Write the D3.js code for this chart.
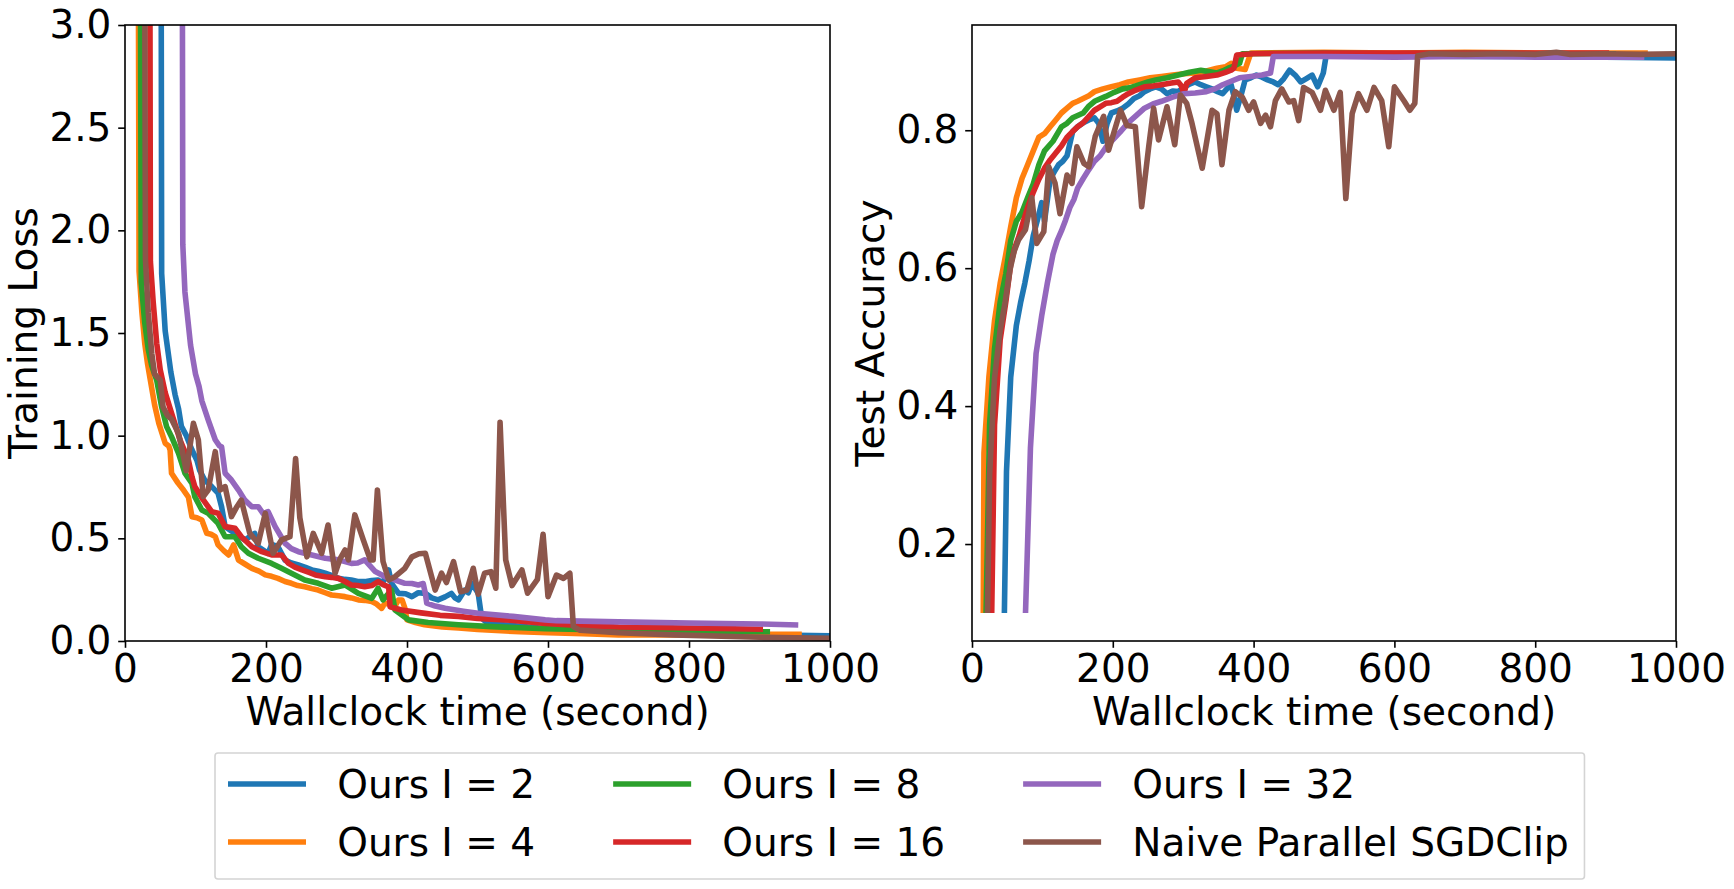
<!DOCTYPE html>
<html>
<head>
<meta charset="utf-8">
<script src="https://cdn.jsdelivr.net/npm/d3@7"></script>
<style>
  body { margin: 0; background: #fff; }
  svg { display: block; font-family: "DejaVu Sans", sans-serif; }
</style>
</head>
<body>
<div id="chart"></div>
<script>
// series: [wallclock seconds, value]
const labels = ["Ours I = 2", "Ours I = 4", "Ours I = 8", "Ours I = 16", "Ours I = 32", "Naive Parallel SGDClip"];
const colors = ["#1f77b4", "#ff7f0e", "#2ca02c", "#d62728", "#9467bd", "#8c564b"];
const xTicks = [0, 200, 400, 600, 800, 1000];
const lossTicks = [0, 0.5, 1.0, 1.5, 2.0, 2.5, 3.0];
const accTicks = [0.2, 0.4, 0.6, 0.8];

const lossI2 = [[50,6],[52,1.79],[57,1.51],[65,1.31],[71,1.2],[76,1.13],[80,1.045],[87,1.0],[95,0.93],[102,0.88],[106,0.83],[113,0.784],[123,0.752],[132,0.72],[137,0.654],[142,0.557],[156,0.524],[170,0.492],[184,0.524],[189,0.459],[203,0.427],[208,0.47],[217,0.459],[227,0.394],[236,0.38],[246,0.37],[255,0.36],[265,0.346],[274,0.34],[284,0.33],[293,0.32],[303,0.305],[312,0.3],[321,0.297],[330,0.29],[340,0.289],[350,0.295],[359,0.297],[365,0.28],[374,0.346],[378,0.281],[388,0.232],[398,0.23],[407,0.216],[416,0.235],[426,0.232],[435,0.21],[444,0.2],[454,0.215],[463,0.232],[468,0.21],[473,0.2],[482,0.248],[487,0.235],[492,0.281],[501,0.232],[506,0.11],[515,0.085],[550,0.075],[600,0.06],[650,0.05],[700,0.045],[800,0.035],[900,0.03],[1000,0.025]];
const lossI4 = [[17,6],[20,1.8],[24,1.6],[28,1.45],[32,1.35],[36,1.27],[42,1.15],[48,1.06],[57,0.963],[62,0.95],[64,0.93],[66,0.817],[75,0.77],[83,0.735],[90,0.70],[95,0.605],[102,0.6],[109,0.589],[116,0.525],[122,0.52],[128,0.508],[132,0.468],[140,0.44],[147,0.419],[154,0.468],[161,0.394],[170,0.375],[180,0.354],[190,0.34],[199,0.322],[208,0.315],[217,0.305],[227,0.29],[236,0.281],[245,0.27],[255,0.264],[265,0.255],[274,0.248],[284,0.235],[293,0.224],[303,0.22],[312,0.216],[321,0.21],[331,0.2],[340,0.198],[350,0.192],[357,0.18],[364,0.159],[368,0.18],[373,0.184],[378,0.17],[383,0.17],[388,0.2],[393,0.2],[397,0.16],[400,0.103],[412,0.09],[425,0.079],[450,0.068],[473,0.063],[500,0.056],[520,0.052],[560,0.045],[600,0.04],[650,0.035],[700,0.03],[800,0.03],[900,0.032],[960,0.033]];
const lossI8 = [[20,6],[23,1.75],[28,1.55],[33,1.42],[38,1.34],[45,1.27],[52,1.14],[59,1.044],[66,0.995],[76,0.914],[85,0.817],[95,0.768],[99,0.703],[109,0.638],[118,0.622],[132,0.573],[142,0.508],[156,0.508],[165,0.459],[175,0.427],[189,0.403],[208,0.378],[222,0.354],[236,0.33],[255,0.297],[274,0.281],[293,0.257],[312,0.273],[331,0.232],[350,0.208],[359,0.257],[366,0.2],[378,0.248],[383,0.151],[402,0.103],[430,0.09],[473,0.079],[520,0.07],[596,0.06],[700,0.052],[800,0.048],[915,0.045]];
const lossI16 = [[34,6],[36,1.85],[40,1.65],[45,1.45],[50,1.32],[57,1.21],[66,1.11],[78,0.98],[90,0.88],[95,0.8],[99,0.752],[111,0.687],[123,0.63],[132,0.622],[142,0.557],[156,0.549],[165,0.508],[180,0.459],[194,0.435],[208,0.419],[222,0.419],[232,0.378],[241,0.36],[251,0.346],[260,0.335],[270,0.322],[284,0.313],[293,0.31],[303,0.305],[312,0.29],[321,0.273],[330,0.27],[340,0.264],[350,0.27],[359,0.289],[366,0.275],[374,0.264],[376,0.167],[392,0.151],[420,0.137],[447,0.125],[473,0.12],[500,0.11],[550,0.1],[596,0.085],[650,0.075],[700,0.068],[800,0.063],[905,0.057]];
const lossI32 = [[80,6],[82,1.93],[85,1.7],[93,1.44],[100,1.3],[105,1.24],[109,1.17],[118,1.077],[128,0.98],[134,0.95],[137,0.946],[142,0.817],[151,0.784],[161,0.735],[170,0.686],[180,0.654],[189,0.654],[196,0.62],[203,0.63],[213,0.557],[227,0.476],[236,0.45],[246,0.435],[265,0.419],[284,0.403],[303,0.395],[321,0.378],[330,0.38],[340,0.395],[355,0.338],[369,0.313],[383,0.297],[397,0.281],[407,0.28],[416,0.273],[423,0.28],[426,0.232],[428,0.184],[440,0.17],[454,0.159],[480,0.145],[501,0.135],[550,0.12],[596,0.103],[612,0.099],[700,0.093],[800,0.088],[900,0.083],[955,0.078]];
const lossNaive = [[26,6],[29,1.86],[33,1.6],[38,1.4],[42,1.3],[50,1.27],[54,1.14],[60,1.1],[66,1.08],[76,1.01],[87,0.83],[97,1.06],[104,0.98],[111,0.703],[118,0.735],[128,0.922],[135,0.735],[142,0.752],[151,0.606],[158,0.65],[165,0.686],[177,0.524],[189,0.476],[199,0.622],[210,0.427],[222,0.492],[234,0.508],[242,0.889],[248,0.6],[258,0.41],[267,0.524],[279,0.427],[288,0.565],[298,0.33],[305,0.40],[312,0.443],[317,0.395],[326,0.614],[338,0.492],[348,0.395],[352,0.395],[358,0.735],[366,0.387],[374,0.297],[383,0.313],[397,0.354],[407,0.41],[417,0.425],[426,0.427],[440,0.248],[449,0.33],[456,0.285],[466,0.387],[476,0.24],[485,0.248],[494,0.354],[501,0.228],[510,0.33],[519,0.338],[526,0.257],[532,1.065],[540,0.395],[549,0.27],[563,0.346],[571,0.233],[585,0.30],[593,0.52],[600,0.216],[612,0.321],[622,0.305],[631,0.33],[636,0.07],[645,0.053],[700,0.04],[778,0.03],[900,0.018],[1000,0.013]];

const accI2 = [[46,0.1],[49,0.305],[55,0.442],[63,0.517],[69,0.55],[75,0.578],[81,0.61],[87,0.647],[93,0.67],[99,0.695],[103,0.668],[111,0.729],[117,0.74],[123,0.75],[129,0.755],[135,0.763],[143,0.798],[150,0.805],[158,0.811],[166,0.815],[174,0.818],[180,0.81],[186,0.784],[192,0.81],[198,0.825],[206,0.828],[214,0.832],[222,0.838],[230,0.846],[238,0.85],[245,0.856],[253,0.86],[261,0.863],[269,0.86],[277,0.853],[285,0.857],[293,0.856],[301,0.862],[309,0.867],[317,0.87],[325,0.866],[333,0.863],[341,0.86],[349,0.856],[356,0.853],[362,0.86],[368,0.866],[372,0.85],[376,0.829],[382,0.85],[388,0.873],[396,0.876],[404,0.88],[412,0.877],[420,0.873],[428,0.87],[435,0.866],[443,0.875],[451,0.887],[459,0.88],[467,0.87],[475,0.875],[483,0.88],[491,0.863],[499,0.883],[503,0.908],[600,0.908],[700,0.907],[800,0.907],[900,0.906],[1000,0.905]];
const accI4 = [[16,0.1],[17,0.332],[24,0.442],[32,0.524],[40,0.578],[48,0.62],[55,0.66],[63,0.702],[71,0.73],[79,0.75],[87,0.77],[95,0.79],[103,0.795],[111,0.805],[119,0.815],[127,0.825],[135,0.832],[143,0.839],[150,0.842],[158,0.846],[166,0.85],[174,0.856],[186,0.86],[198,0.863],[210,0.866],[222,0.87],[238,0.873],[253,0.876],[269,0.878],[285,0.88],[301,0.882],[317,0.883],[333,0.886],[348,0.89],[360,0.892],[368,0.897],[376,0.89],[388,0.888],[396,0.912],[500,0.913],[600,0.912],[700,0.913],[800,0.912],[960,0.912]];
const accI8 = [[20,0.1],[25,0.373],[32,0.483],[40,0.551],[48,0.592],[55,0.64],[63,0.668],[71,0.681],[79,0.702],[87,0.722],[95,0.75],[103,0.77],[115,0.784],[127,0.805],[135,0.81],[143,0.818],[158,0.825],[166,0.835],[174,0.842],[190,0.849],[202,0.855],[214,0.86],[226,0.862],[238,0.866],[250,0.87],[261,0.873],[277,0.876],[293,0.88],[309,0.884],[325,0.887],[336,0.885],[348,0.883],[356,0.886],[364,0.89],[372,0.893],[380,0.897],[384,0.911],[500,0.912],[600,0.911],[700,0.912],[800,0.911],[915,0.911]];
const accI16 = [[28,0.1],[32,0.373],[40,0.496],[48,0.551],[55,0.606],[61,0.63],[67,0.647],[73,0.668],[79,0.688],[87,0.71],[95,0.729],[103,0.745],[111,0.757],[119,0.767],[127,0.777],[135,0.79],[143,0.798],[150,0.805],[158,0.811],[166,0.82],[174,0.829],[182,0.834],[190,0.839],[198,0.84],[206,0.842],[214,0.848],[222,0.853],[230,0.857],[245,0.863],[257,0.864],[269,0.866],[281,0.868],[293,0.87],[297,0.865],[301,0.853],[305,0.868],[317,0.876],[333,0.878],[348,0.88],[360,0.884],[368,0.887],[372,0.89],[376,0.909],[400,0.911],[500,0.912],[600,0.912],[700,0.912],[800,0.912],[905,0.912]];
const accI32 = [[76,0.1],[83,0.339],[91,0.476],[99,0.531],[107,0.578],[115,0.62],[121,0.64],[127,0.654],[133,0.67],[139,0.688],[145,0.7],[150,0.716],[158,0.73],[166,0.743],[174,0.755],[182,0.763],[190,0.775],[198,0.784],[210,0.797],[222,0.811],[234,0.822],[245,0.832],[257,0.838],[269,0.842],[285,0.848],[301,0.853],[317,0.854],[333,0.856],[345,0.86],[356,0.866],[368,0.871],[380,0.876],[396,0.878],[412,0.88],[424,0.883],[428,0.907],[500,0.907],[600,0.906],[700,0.907],[800,0.906],[955,0.906]];
const accNaive = [[22,0.1],[25,0.3],[32,0.44],[40,0.51],[47,0.55],[54,0.598],[60,0.625],[66,0.641],[76,0.656],[85,0.702],[92,0.636],[102,0.653],[109,0.747],[118,0.723],[125,0.679],[135,0.735],[142,0.723],[149,0.776],[159,0.752],[166,0.747],[175,0.791],[187,0.82],[194,0.771],[204,0.805],[211,0.829],[220,0.807],[232,0.805],[241,0.689],[251,0.776],[258,0.832],[265,0.786],[277,0.834],[288,0.779],[296,0.851],[305,0.839],[312,0.812],[327,0.745],[341,0.829],[348,0.824],[355,0.75],[365,0.829],[374,0.856],[384,0.848],[393,0.829],[400,0.841],[410,0.81],[417,0.822],[424,0.805],[431,0.843],[440,0.86],[450,0.841],[457,0.843],[464,0.814],[471,0.862],[483,0.855],[495,0.829],[502,0.858],[514,0.829],[523,0.855],[531,0.701],[540,0.824],[549,0.853],[561,0.829],[571,0.862],[582,0.843],[592,0.776],[600,0.863],[614,0.842],[622,0.829],[629,0.839],[633,0.908],[650,0.911],[700,0.91],[750,0.911],[800,0.91],[830,0.913],[850,0.91],[900,0.911],[950,0.91],[1000,0.911]];

const lossSeries = [lossI2, lossI4, lossI8, lossI16, lossI32, lossNaive];
const accSeries = [accI2, accI4, accI8, accI16, accI32, accNaive];

const W = 1734, H = 889;
const FS = 39;
const plotTop = 25, plotBottom = 641;
const lineW = 5.6;

const svg = d3.select("#chart").append("svg")
    .attr("width", W)
    .attr("height", H);

svg.append("rect").attr("width", W).attr("height", H).attr("fill", "#fff");

function panel(id, x0, x1, yDomain, yTicks, yFmt, series, yLabel, yLabelX) {
    const x = d3.scaleLinear().domain([0, 1000]).range([x0, x1]);
    const y = d3.scaleLinear().domain(yDomain).range([plotBottom, plotTop]);

    svg.append("clipPath").attr("id", id)
        .append("rect")
        .attr("x", x0).attr("y", plotTop)
        .attr("width", x1-x0).attr("height", plotBottom-plotTop);

    const line = d3.line()
        .x(d => x(d[0]))
        .y(d => y(d[1]));

    svg.append("g")
        .attr("clip-path", `url(#${id})`)
        .selectAll("path")
        .data(series)
        .enter().append("path")
        .attr("d", line)
        .attr("fill", "none")
        .attr("stroke", (d, i) => colors[i])
        .attr("stroke-width", lineW)
        .attr("stroke-linejoin", "round")
        .attr("stroke-linecap", "butt");

    const gx = svg.append("g")
        .attr("transform", `translate(0,${plotBottom})`)
        .call(d3.axisBottom(x).tickValues(xTicks).tickFormat(d3.format("d")).tickSizeOuter(0).tickSize(6.8).tickPadding(6.8));
    const gy = svg.append("g")
        .attr("transform", `translate(${x0},0)`)
        .call(d3.axisLeft(y).tickValues(yTicks).tickFormat(yFmt).tickSizeOuter(0).tickSize(6.8).tickPadding(6.8));

    [gx, gy].forEach(g => {
        g.select(".domain").remove();
        g.selectAll(".tick line").attr("stroke", "#000").attr("stroke-width", 1.6);
        g.selectAll(".tick text")
            .attr("fill", "#000")
            .style("font-size", FS+"px")
            .style("font-family", "DejaVu Sans");
    });

    svg.append("rect")
        .attr("x", x0).attr("y", plotTop)
        .attr("width", x1-x0).attr("height", plotBottom-plotTop)
        .attr("fill", "none")
        .attr("stroke", "#000")
        .attr("stroke-width", 1.6);

    svg.append("text")
        .attr("x", (x0+x1)/2)
        .attr("y", 725)
        .attr("text-anchor", "middle")
        .style("font-size", FS+"px")
        .text("Wallclock time (second)");

    svg.append("text")
        .attr("transform", `translate(${yLabelX},${(plotTop+plotBottom)/2}) rotate(-90)`)
        .attr("text-anchor", "middle")
        .style("font-size", FS+"px")
        .text(yLabel);
}

panel("clipL", 125, 830, [0, 3], lossTicks, d3.format(".1f"), lossSeries, "Training Loss", 37);
panel("clipR", 972, 1676, [0.0594, 0.9526], accTicks, d3.format(".1f"), accSeries, "Test Accuracy", 884);

// legend, three columns filled top to bottom
const leg = svg.append("g");
const legLeft = 215, legTop = 753, legH = 126;
const rowY = [784, 842];
const handleLen = 2.0*FS, handlePad = 0.8*FS, colGap = 2.0*FS;
const frame = leg.append("rect")
    .attr("x", legLeft).attr("y", legTop)
    .attr("height", legH)
    .attr("rx", 3)
    .attr("fill", "#fff")
    .attr("stroke", "#d4d4d4")
    .attr("stroke-width", 1.6);

let colX = 228;
for (let c = 0; c < 3; c++) {
    let maxW = 0;
    for (let r = 0; r < 2; r++) {
        const i = c*2 + r;
        leg.append("line")
            .attr("x1", colX).attr("x2", colX+handleLen)
            .attr("y1", rowY[r]).attr("y2", rowY[r])
            .attr("stroke", colors[i])
            .attr("stroke-width", lineW);
        const t = leg.append("text")
            .attr("x", colX+handleLen+handlePad)
            .attr("y", rowY[r]+14)
            .style("font-size", FS+"px")
            .text(labels[i]);
        maxW = Math.max(maxW, t.node().getComputedTextLength());
    }
    const end = colX+handleLen+handlePad+maxW;
    if (c < 2) colX = end+colGap;
    else frame.attr("width", end+0.4*FS-legLeft);
}
</script>
</body>
</html>
